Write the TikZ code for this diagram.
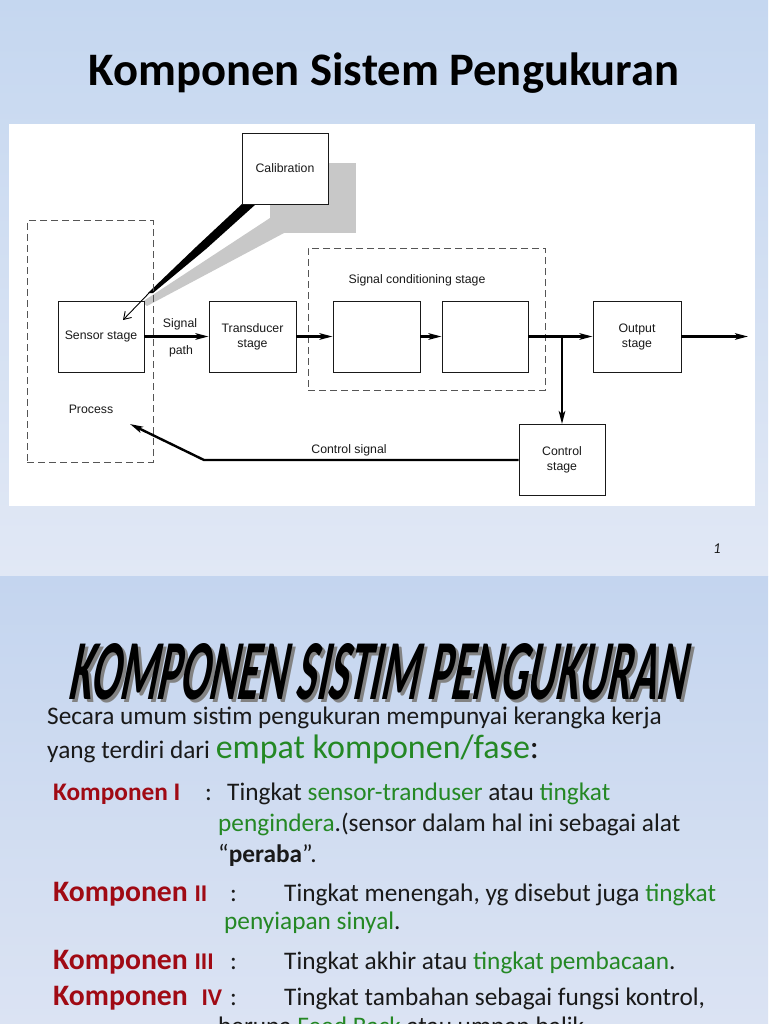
\documentclass[tikz,border=0pt]{standalone}
\usepackage{fontspec}
\usepackage{graphicx}
\setmainfont{Carlito}
\newfontfamily\diagfont{Liberation Sans}
\usetikzlibrary{arrows.meta}
\definecolor{bgA}{RGB}{197,215,240}
\definecolor{bgB}{RGB}{225,232,245}
\definecolor{bgC}{RGB}{196,213,239}
\definecolor{bgD}{RGB}{219,227,243}
\definecolor{grn}{RGB}{36,136,36}
\definecolor{dred}{RGB}{160,10,20}
\definecolor{shadowgray}{RGB}{200,200,200}
\definecolor{dashgray}{RGB}{85,85,85}
\definecolor{ink}{RGB}{25,25,25}
\definecolor{ttlshadow}{RGB}{130,130,130}
\begin{document}
\begin{tikzpicture}[x=1pt,y=-1pt,
  stagebox/.style={draw=ink, line width=0.9pt, fill=white, minimum width=86pt, minimum height=71pt, inner sep=0pt, align=center, font=\diagfont\fontsize{12.3}{15}\selectfont, text=ink},
  dashbox/.style={draw=dashgray, line width=1pt, dash pattern=on 7pt off 4pt, inner sep=0pt},
  lbl/.style={font=\diagfont\fontsize{12.3}{15}\selectfont, text=ink, inner sep=0pt},
  sig/.style={line width=2.4pt, draw=black, -{Stealth[length=13pt,width=6.5pt,inset=3pt]}},
  txt/.style={anchor=base west, inner sep=0pt, font=\fontsize{25.3}{30}\selectfont, text=ink},
  klbl/.style={anchor=base west, inner sep=0pt, text=dred, font=\bfseries},
]
\clip (0,0) rectangle (768,1024);
% backgrounds
\shade[top color=bgA, bottom color=bgB] (0,0) rectangle (768,576);
\shade[top color=bgC, bottom color=bgD] (0,576) rectangle (768,1024);
\fill[white] (9,124) rectangle (755,506);

% title top
\node[anchor=base, inner sep=0pt, font=\bfseries\fontsize{46.6}{50}\selectfont, text=black] (title1) at (384,86) {Komponen Sistem Pengukuran};

% calibration shadow and wedges
\fill[shadowgray] (270,163) rectangle (356,233);
\fill[shadowgray] (270,218) -- (284,233) -- (147,306) -- (142,302) -- cycle;
\fill[black] (242,204) -- (256,204) -- (206,249) -- (153,293) -- (148,293) -- (196,247) -- cycle;

% dashed groups
\node[dashbox, minimum width=126pt, minimum height=241pt] (procbox) at (90,341.5) {};
\node[dashbox, minimum width=237pt, minimum height=142pt] (scbox) at (426.5,319) {};

% stage boxes
\node[stagebox] (calib) at (285,168.5) {Calibration};
\node[stagebox] (sensor) at (101,336.5) {Sensor stage};
\node[stagebox, minimum width=87pt] (trans) at (252.5,336.5) {Transducer\\stage};
\node[stagebox, minimum width=87pt] (b1) at (376.5,336.5) {};
\node[stagebox] (b2) at (485,336.5) {};
\node[stagebox, minimum width=88pt] (out) at (637,336.5) {Output\\stage};
\node[stagebox] (ctrl) at (562,460) {Control\\stage};

% labels
\node[lbl] (proclbl) at (91,409) {Process};
\node[lbl] (sclbl) at (417,280) {Signal conditioning stage};
\node[lbl] (ctrllbl) at (349,450) {Control signal};
\node[lbl] (siglbl) at (180,324) {Signal};
\node[lbl] (pathlbl) at (181,351) {path};

% connectors
\coordinate (calfoot) at (150,292);
\coordinate (caltip) at (123,320);
\draw[line width=0.9pt, -{Straight Barb[length=7pt,width=9pt]}] (calfoot) -- (caltip);
\draw[sig] (sensor.east) -- (trans.west);
\draw[sig] (trans.east) -- (b1.west);
\draw[sig] (b1.east) -- (b2.west);
\draw[sig] (b2.east) -- (out.west);
\coordinate (br) at (562,336.5);
\draw[sig] (br) -- (ctrl.north);
\coordinate (outend) at (748,336.5);
\draw[sig] (out.east) -- (outend);
\coordinate (cbend) at (204,460);
\coordinate (ctip) at (130,424);
\draw[sig] (ctrl.west) -- (cbend) -- (ctip);

% page number
\node[inner sep=0pt, font=\itshape\fontsize{15}{18}\selectfont, text=ink] (pgnum) at (717,549) {1};

% second slide title (slanted, stretched)
\begin{scope}[shift={(70,703)}, xslant=0.2]
\node[transform shape, anchor=south west, inner sep=0pt, text=ttlshadow] (title2s) at (0,0) {\resizebox{616pt}{56pt}{\bfseries KOMPONEN SISTIM PENGUKURAN}};
\end{scope}
\begin{scope}[shift={(67,700)}, xslant=0.2]
\node[transform shape, anchor=south west, inner sep=0pt, text=black] (title2) at (0,0) {\resizebox{616pt}{56pt}{\bfseries KOMPONEN SISTIM PENGUKURAN}};
\end{scope}

% body
\node[txt] (l1) at (47,724) {Secara umum sistim pengukuran mempunyai kerangka kerja};
\node[txt] (l2) at (47,758) {yang terdiri dari {\fontsize{34}{40}\selectfont\textcolor{grn}{empat komponen/fase}:}};

\node[klbl, font=\bfseries\fontsize{25.3}{30}\selectfont] (k1) at (53,800) {Komponen I};
\node[txt] (c1) at (205,800) {:};
\node[txt] (t1) at (227,800) {Tingkat \textcolor{grn}{sensor-tranduser} atau \textcolor{grn}{tingkat}};
\node[txt] (t1b) at (218,831) {\textcolor{grn}{pengindera}.(sensor dalam hal ini sebagai alat};
\node[txt] (t1c) at (218,862) {“\textbf{peraba}”.};

\node[klbl, font=\bfseries\fontsize{29.7}{34}\selectfont] (k2) at (53,901) {Komponen {\fontsize{24}{28}\selectfont II}};
\node[txt] (c2) at (230,901) {:};
\node[txt] (t2) at (284,901) {Tingkat menengah, yg disebut juga \textcolor{grn}{tingkat}};
\node[txt] (t2b) at (224,929) {\textcolor{grn}{penyiapan sinyal}.};

\node[klbl, font=\bfseries\fontsize{29.7}{34}\selectfont] (k3) at (53,969) {Komponen {\fontsize{24}{28}\selectfont III}};
\node[txt] (c3) at (230,969) {:};
\node[txt] (t3) at (284,969) {Tingkat akhir atau \textcolor{grn}{tingkat pembacaan}.};

\node[klbl, font=\bfseries\fontsize{29.7}{34}\selectfont] (k4) at (53,1005) {Komponen\hspace{7pt} {\fontsize{24}{28}\selectfont IV}};
\node[txt] (c4) at (230,1005) {:};
\node[txt] (t4) at (284,1005) {Tingkat tambahan sebagai fungsi kontrol,};
\node[txt] (t4b) at (218,1034) {berupa \textcolor{grn}{Feed Back} atau umpan balik.};
\end{tikzpicture}
\end{document}
